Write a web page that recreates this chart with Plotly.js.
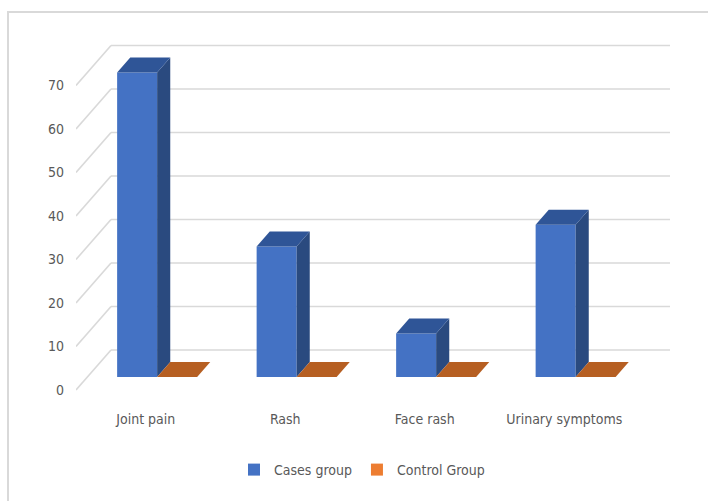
<!DOCTYPE html>
<html>
<head>
<meta charset="utf-8">
<script src="https://cdn.plot.ly/plotly-3.0.1.min.js"></script>
<style>
  html, body { margin: 0; padding: 0; background: #fff; }
  #wrap { position: relative; width: 708px; height: 501px; overflow: hidden; }
  #chart { position: absolute; left: 0; top: 0; width: 708px; height: 501px; }
  #frame { position: absolute; left: 7px; top: 11px; width: 720px; height: 520px;
           border-left: 2px solid #d9d9d9; border-top: 2px solid #d9d9d9; pointer-events: none; }
</style>
</head>
<body>
<div id="wrap">
  <div id="chart"></div>
  <div id="frame"></div>
</div>
<script>
// ---- data ----
const categories = ["Joint pain", "Rash", "Face rash", "Urinary symptoms"];
const casesGroup = [70, 30, 10, 35];
const controlGroup = [0, 0, 0, 0];
const yTicks = [0, 10, 20, 30, 40, 50, 60, 70];
const seriesNames = ["Cases group", "Control Group"];

// ---- geometry of the oblique 3D look (layout constants) ----
const K = 4.35;          // px per value unit
const XU = 139.5;        // px per category
const Y0PX = 390, TOPPX = 30, BOTPX = 404;
const LEFTPX = 76, RIGHTPX = 672, W = 708, H = 501;
const Du = 40 / K;       // vertical shift (value units) over the full depth
const Dx = 35 / XU;      // horizontal shift (category units) over the full depth
const barW = 40 / XU;    // bar width in category units
const dF = 0.325, dB = 0.7; // depth of front / back faces of the bars
const backRight = (670 - LEFTPX) / XU - 0.5;
const xMin = -0.5;

const font = "DejaVu Sans Condensed, Liberation Sans Narrow, sans-serif";
const fs = 14;
const txt = "#595959";
const gridC = "#d9d9d9";

// gridline shapes (back wall + left wall) from tick values
const shapes = [];
yTicks.forEach(v => {
  shapes.push({type: "line", layer: "below", xref: "x", yref: "y",
    x0: xMin + Dx, x1: backRight, y0: v + Du, y1: v + Du,
    line: {color: gridC, width: 1.6}});
  shapes.push({type: "line", layer: "below", xref: "x", yref: "y",
    x0: xMin, x1: xMin + Dx, y0: v, y1: v + Du,
    line: {color: gridC, width: 1.6}});
});

function faces(values, leftOff) {
  const top = {x: [], y: []}, side = {x: [], y: []};
  values.forEach((v, i) => {
    const x0f = i + leftOff + dF * Dx, x1f = x0f + barW;
    const x0b = i + leftOff + dB * Dx, x1b = x0b + barW;
    const yf = v + dF * Du, yb = v + dB * Du;
    top.x.push(x0f, x1f, x1b, x0b, x0f, null);
    top.y.push(yf, yf, yb, yb, yf, null);
    side.x.push(x1f, x1f, x1b, x1b, x1f, null);
    side.y.push(dF * Du, yf, yb, dB * Du, dF * Du, null);
  });
  return {top, side};
}

const blue = faces(casesGroup, -barW);
const orange = faces(controlGroup, 0);

function poly(p, color) {
  return {type: "scatter", mode: "lines", x: p.x, y: p.y, fill: "toself",
    fillcolor: color, line: {width: 0, color: color}, showlegend: false,
    hoverinfo: "skip"};
}

const traces = [
  {type: "bar", name: seriesNames[0], x: [0, 1, 2, 3], y: casesGroup,
   base: dF * Du, width: barW, offset: -barW + dF * Dx,
   marker: {color: "#4472c4", line: {width: 0}}},
  {type: "bar", name: seriesNames[1], x: [0, 1, 2, 3], y: controlGroup,
   base: dF * Du, width: barW, offset: dF * Dx,
   marker: {color: "#ed7d31", line: {width: 0}}},
  poly(blue.side, "#2a4a7f"),
  poly(blue.top, "#2f5597"),
  poly(orange.side, "#9e521b"),
  poly(orange.top, "#b65f22")
];

const layout = {
  width: W, height: H,
  margin: {l: LEFTPX, r: W - RIGHTPX, t: TOPPX, b: H - BOTPX, pad: 0},
  paper_bgcolor: "#ffffff", plot_bgcolor: "#ffffff",
  barmode: "overlay",
  showlegend: true,
  font: {family: font, size: fs, color: txt},
  xaxis: {range: [xMin, (RIGHTPX - LEFTPX) / XU - 0.5], tickvals: [0, 1, 2, 3],
    ticktext: categories, showgrid: false, zeroline: false, showline: false,
    ticks: "", ticklabelstandoff: 5, tickfont: {family: font, size: fs, color: txt},
    fixedrange: true},
  yaxis: {range: [(Y0PX - BOTPX) / K, (Y0PX - TOPPX) / K], tickvals: yTicks,
    showgrid: false, zeroline: false, showline: false, ticks: "",
    ticklabelstandoff: 11, tickfont: {family: font, size: fs, color: txt},
    fixedrange: true},
  legend: {orientation: "h", x: (362 - LEFTPX) / (RIGHTPX - LEFTPX), xanchor: "center",
    y: (BOTPX - 470) / (BOTPX - TOPPX), yanchor: "middle",
    font: {family: font, size: fs, color: txt}, traceorder: "normal", itemwidth: 30},
  shapes: shapes
};

Plotly.newPlot("chart", traces, layout, {displayModeBar: false, staticPlot: true});
</script>
</body>
</html>
